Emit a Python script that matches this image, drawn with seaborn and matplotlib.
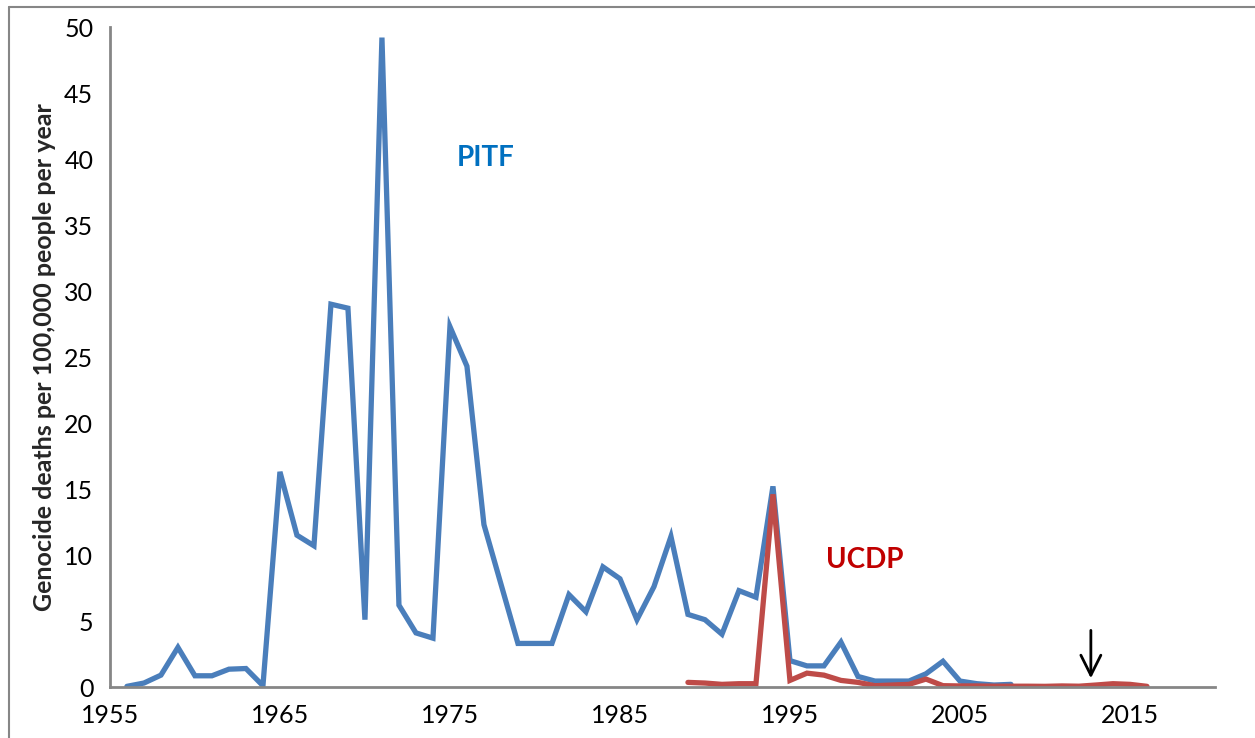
import numpy as np
import pandas as pd
import matplotlib
matplotlib.use("Agg")
import matplotlib.pyplot as plt
from matplotlib.lines import Line2D
import seaborn as sns

# Genocide deaths per 100,000 people per year
pitf_years = list(range(1956, 2009))
pitf_values = [0.05, 0.3, 0.9, 3.0, 0.85, 0.85, 1.35, 1.4, 0.1,
               16.3, 11.5, 10.7, 29.0, 28.7, 5.1, 49.2, 6.2, 4.1, 3.7,
               27.3, 24.3, 12.3, 7.8, 3.3, 3.3, 3.3, 7.0, 5.7, 9.1,
               8.2, 5.1, 7.6, 11.4, 5.5, 5.1, 4.0, 7.3, 6.8, 15.2,
               2.0, 1.6, 1.6, 3.4, 0.8, 0.45, 0.45, 0.45, 1.0, 1.95,
               0.45, 0.25, 0.15, 0.2]

ucdp_years = list(range(1989, 2017))
ucdp_values = [0.35, 0.3, 0.2, 0.25, 0.25, 14.6, 0.5, 1.05, 0.9, 0.5,
               0.35, 0.1, 0.15, 0.2, 0.6, 0.1, 0.08, 0.08, 0.06, 0.06,
               0.06, 0.05, 0.08, 0.06, 0.15, 0.25, 0.2, 0.05]

x_ticks = [1955, 1965, 1975, 1985, 1995, 2005, 2015]
y_ticks = [0, 5, 10, 15, 20, 25, 30, 35, 40, 45, 50]

pitf = pd.DataFrame({"year": pitf_years, "value": pitf_values})
ucdp = pd.DataFrame({"year": ucdp_years, "value": ucdp_values})

sns.set_style("white")
plt.rcParams["font.family"] = ["Lato", "DejaVu Sans"]

fig = plt.figure(figsize=(12.55, 7.38), dpi=100)
ax = fig.add_axes([0.0876, 0.0691, 0.8805, 0.8943])

sns.lineplot(data=pitf, x="year", y="value", ax=ax, color="#4A7EBB",
             linewidth=3.8, solid_capstyle="round", solid_joinstyle="miter")
sns.lineplot(data=ucdp, x="year", y="value", ax=ax, color="#BE4B48",
             linewidth=3.8, solid_capstyle="round", solid_joinstyle="miter")

ax.set_xlim(1955, 2020)
ax.set_ylim(0, 50)
ax.set_xticks(x_ticks)
ax.set_yticks(y_ticks)
ax.tick_params(axis="both", labelsize=18, colors="#000000",
               length=7, width=1.6, direction="out", pad=5)
for t in ax.get_xticklines() + ax.get_yticklines():
    t.set_color("#868686")
ax.set_xlabel("")
ax.set_ylabel("Genocide deaths per 100,000 people per year",
              fontsize=18, fontweight="bold", labelpad=6)

for side in ["top", "right"]:
    ax.spines[side].set_visible(False)
for side in ["left", "bottom"]:
    ax.spines[side].set_color("#868686")
    ax.spines[side].set_linewidth(2)
ax.grid(False)

ax.text(1977.1, 40.1, "PITF", color="#0070C0", fontsize=20,
        fontweight="bold", ha="center", va="center")
ax.text(1999.4, 9.6, "UCDP", color="#C00000", fontsize=20,
        fontweight="bold", ha="center", va="center")

ax.annotate("", xy=(2012.7, 0.45), xytext=(2012.7, 4.5),
            arrowprops=dict(arrowstyle="->", color="black", lw=2,
                            mutation_scale=36))

# chart area border (top and left edges visible)
fig.add_artist(Line2D([0.007, 1.0], [0.9905, 0.9905], color="#868686",
                      lw=1.5, transform=fig.transFigure))
fig.add_artist(Line2D([0.007, 0.007], [0.0, 0.9905], color="#868686",
                      lw=1.5, transform=fig.transFigure))

fig.savefig("out.png", dpi=100)
